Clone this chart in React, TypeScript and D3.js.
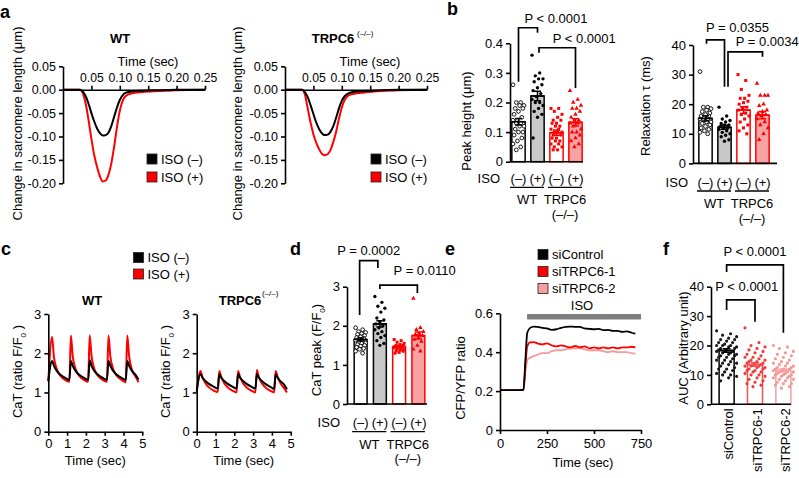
import React, { useRef, useEffect } from "react";
import * as d3 from "d3";

const FONT = "'Liberation Sans', Arial, Helvetica, sans-serif";
const FS = 13;
const RED = "#ff0000";
const PINK = "#f7a3a3";
const GREY = "#c8c8c8";

// ---- a: sarcomere shortening (µm) vs time (sec)
const aTime = [0, 0.03, 0.035, 0.04, 0.045, 0.05, 0.055, 0.06, 0.065, 0.07, 0.075, 0.08, 0.085, 0.09, 0.095, 0.1, 0.105, 0.11, 0.12, 0.14, 0.17, 0.2, 0.25];
const aWtMinus = [0, 0, -0.004, -0.014, -0.03, -0.05, -0.068, -0.083, -0.093, -0.098, -0.097, -0.092, -0.078, -0.058, -0.038, -0.022, -0.012, -0.007, -0.004, -0.002, -0.001, 0, 0];
const aWtPlus = [0, 0, -0.008, -0.03, -0.065, -0.105, -0.14, -0.165, -0.185, -0.196, -0.194, -0.182, -0.158, -0.122, -0.08, -0.045, -0.024, -0.014, -0.008, -0.005, -0.003, -0.001, 0];
const aKoMinus = [0, 0, -0.005, -0.016, -0.033, -0.052, -0.07, -0.084, -0.093, -0.097, -0.096, -0.09, -0.078, -0.06, -0.04, -0.024, -0.014, -0.009, -0.005, -0.003, -0.001, 0, 0];
const aKoPlus = [0, 0, -0.01, -0.04, -0.07, -0.095, -0.113, -0.127, -0.137, -0.14, -0.138, -0.129, -0.112, -0.09, -0.062, -0.038, -0.022, -0.014, -0.009, -0.006, -0.003, -0.001, 0];
const aXTicks = [0.05, 0.1, 0.15, 0.2, 0.25];
const aYTicks = [0.05, 0, -0.05, -0.1, -0.15, -0.2];

// ---- b: peak height and relaxation tau
const bCats = ["WT ISO(–)", "WT ISO(+)", "TRPC6 ISO(–)", "TRPC6 ISO(+)"];
const isoMarks = ["(–)", "(+)", "(–)", "(+)"];
const bPeakMeans = [0.135, 0.222, 0.098, 0.133];
const bPeakSems = [0.011, 0.016, 0.009, 0.012];
const bPeakWtMinus = [0.26, 0.2, 0.2, 0.19, 0.19, 0.18, 0.18, 0.17, 0.16, 0.15, 0.14, 0.14, 0.13, 0.13, 0.12, 0.12, 0.11, 0.1, 0.1, 0.09, 0.08, 0.07, 0.06, 0.05, 0.04];
const bPeakWtPlus = [0.36, 0.3, 0.29, 0.28, 0.28, 0.27, 0.26, 0.25, 0.24, 0.23, 0.22, 0.21, 0.2, 0.2, 0.19, 0.18, 0.17, 0.16, 0.15, 0.08];
const bPeakKoMinus = [0.18, 0.18, 0.17, 0.16, 0.15, 0.14, 0.14, 0.13, 0.13, 0.12, 0.12, 0.11, 0.11, 0.1, 0.1, 0.1, 0.09, 0.09, 0.08, 0.08, 0.07, 0.07, 0.06, 0.06, 0.05, 0.05, 0.04, 0.04];
const bPeakKoPlus = [0.24, 0.21, 0.2, 0.19, 0.18, 0.18, 0.17, 0.16, 0.15, 0.14, 0.14, 0.13, 0.13, 0.12, 0.11, 0.1, 0.1, 0.09, 0.08, 0.07, 0.06, 0.05];
const bTauMeans = [15.2, 12.2, 18.0, 16.3];
const bTauSems = [0.9, 0.7, 1.1, 1.2];
const bTauWtMinus = [31, 19, 19, 18.5, 18, 17.5, 17, 16.5, 16, 16, 15.5, 15, 15, 14.5, 14, 14, 13.5, 13, 12.5, 12, 11.5, 11, 10.5, 10];
const bTauWtPlus = [19, 16, 15, 14.5, 14, 13.5, 13, 13, 12.5, 12, 12, 11.5, 11, 10.5, 10, 9.5, 9, 8, 7.5];
const bTauKoMinus = [30, 28, 25, 23, 22, 22, 21, 20.5, 20, 19, 18.5, 18, 17, 16.5, 16, 15, 14, 13, 12, 11, 10];
const bTauKoPlus = [27, 23, 23, 23, 20, 19.5, 18, 17.5, 17, 16.5, 16, 15, 14, 13, 12, 10, 8];

// ---- c: calcium transients
const cTime = [0, 0.2, 0.3, 0.45, 0.65, 0.9, 1.12, 1.2, 1.3, 1.45, 1.65, 1.9, 2.12, 2.2, 2.3, 2.45, 2.65, 2.9, 3.12, 3.2, 3.3, 3.45, 3.65, 3.9, 4.12, 4.2, 4.3, 4.45, 4.65, 4.8];
const cWtMinus = [1.3, 1.8, 1.68, 1.55, 1.45, 1.37, 1.32, 1.8, 1.68, 1.55, 1.45, 1.37, 1.32, 1.82, 1.68, 1.55, 1.45, 1.37, 1.32, 1.81, 1.68, 1.55, 1.45, 1.37, 1.32, 1.8, 1.68, 1.55, 1.44, 1.33];
const cWtPlus = [1.28, 2.42, 1.9, 1.6, 1.42, 1.32, 1.27, 2.45, 1.92, 1.6, 1.42, 1.32, 1.27, 2.46, 1.93, 1.6, 1.42, 1.32, 1.27, 2.45, 1.92, 1.6, 1.42, 1.32, 1.26, 2.45, 1.92, 1.58, 1.4, 1.26];
const cKoMinus = [1.05, 1.47, 1.38, 1.3, 1.22, 1.15, 1.1, 1.47, 1.38, 1.3, 1.22, 1.15, 1.1, 1.47, 1.38, 1.3, 1.22, 1.15, 1.1, 1.47, 1.38, 1.3, 1.22, 1.15, 1.09, 1.47, 1.38, 1.29, 1.2, 1.08];
const cKoPlus = [1.0, 1.55, 1.4, 1.25, 1.13, 1.05, 1.01, 1.55, 1.4, 1.25, 1.13, 1.05, 1.0, 1.55, 1.4, 1.25, 1.13, 1.05, 1.0, 1.57, 1.4, 1.25, 1.13, 1.05, 1.0, 1.55, 1.4, 1.24, 1.11, 1.0];

// ---- d: CaT peak
const dMeans = [1.65, 2.05, 1.47, 1.75];
const dSems = [0.04, 0.08, 0.02, 0.09];
const dWtMinus = [1.95, 1.9, 1.85, 1.83, 1.8, 1.78, 1.75, 1.72, 1.7, 1.68, 1.65, 1.63, 1.6, 1.58, 1.56, 1.55, 1.52, 1.5, 1.48, 1.45, 1.42, 1.4, 1.35, 1.3];
const dWtPlus = [2.75, 2.6, 2.5, 2.45, 2.35, 2.2, 2.15, 2.1, 2.05, 2.0, 1.95, 1.9, 1.85, 1.8, 1.75, 1.7, 1.62, 1.55, 1.5];
const dKoMinus = [1.65, 1.62, 1.58, 1.55, 1.52, 1.5, 1.5, 1.48, 1.47, 1.46, 1.45, 1.44, 1.42, 1.41, 1.4, 1.38, 1.36, 1.35, 1.32, 1.3];
const dKoPlus = [2.7, 1.95, 1.9, 1.85, 1.8, 1.78, 1.75, 1.7, 1.65, 1.6, 1.5, 1.4, 1.35];

// ---- e: CFP/YFP ratio over time
const eTime = [0, 50, 100, 125, 135, 145, 160, 180, 200, 225, 250, 275, 300, 325, 350, 375, 400, 425, 450, 475, 500, 525, 550, 575, 600, 625, 650, 675, 700, 720];
const eSiControl = [0.205, 0.205, 0.205, 0.207, 0.36, 0.5, 0.525, 0.532, 0.53, 0.525, 0.522, 0.515, 0.518, 0.525, 0.53, 0.532, 0.53, 0.53, 0.522, 0.52, 0.518, 0.52, 0.513, 0.515, 0.51, 0.51, 0.505, 0.507, 0.5, 0.495];
const eSi1 = [0.205, 0.205, 0.205, 0.207, 0.33, 0.43, 0.45, 0.452, 0.445, 0.44, 0.445, 0.435, 0.43, 0.435, 0.43, 0.425, 0.432, 0.425, 0.43, 0.42, 0.425, 0.42, 0.425, 0.42, 0.425, 0.42, 0.425, 0.425, 0.428, 0.425];
const eSi2 = [0.205, 0.205, 0.205, 0.207, 0.3, 0.36, 0.372, 0.38, 0.388, 0.395, 0.395, 0.405, 0.41, 0.41, 0.415, 0.418, 0.42, 0.42, 0.415, 0.41, 0.41, 0.41, 0.405, 0.4, 0.405, 0.4, 0.4, 0.4, 0.395, 0.392];
const eIsoPeriod = [144, 750];

// ---- f: AUC
const fCats = ["siControl", "siTRPC6-1", "siTRPC6-2"];
const fMeans = [18.3, 13.5, 11.5];
const fSems = [0.6, 0.6, 0.5];
const fCtrl = [25, 24, 23.5, 23, 22.5, 22, 22, 21.5, 21, 21, 20.5, 20, 20, 20, 19.5, 19.5, 19, 19, 18.5, 18.5, 18, 18, 18, 17.5, 17.5, 17, 17, 16.5, 16.5, 16, 16, 15.5, 15, 15, 14.5, 14, 14, 13.5, 13, 12.5, 12, 12, 11.5, 11, 10.5, 10, 10, 9.5, 9, 8];
const fSi1 = [26, 21, 20, 19.5, 19, 18.5, 18, 17.5, 17, 16.5, 16, 16, 15.5, 15, 15, 14.5, 14.5, 14, 14, 14, 13.5, 13.5, 13, 13, 13, 12.5, 12.5, 12, 12, 11.5, 11.5, 11, 11, 10.5, 10, 10, 9.5, 9, 8.5, 8, 7.5, 7, 6.5, 6];
const fSi2 = [20, 19.5, 19, 18, 17.5, 17, 16.5, 16, 15.5, 15, 14.5, 14, 14, 13.5, 13, 13, 12.5, 12.5, 12, 12, 12, 11.5, 11.5, 11, 11, 11, 10.5, 10.5, 10, 10, 10, 9.5, 9.5, 9, 9, 8.5, 8.5, 8, 7.5, 7, 7, 6.5, 6, 5.5];

const jitter = (j: number, spread: number) => ((((j * 7) % 11) / 10) - 0.5) * 2 * spread;

function styleAxis(g: any, size = FS) {
  g.attr("font-family", FONT).attr("font-size", size);
  g.select(".domain").attr("stroke", "#000").attr("stroke-width", 1.6);
  g.selectAll(".tick line").attr("stroke", "#000").attr("stroke-width", 1.6);
  g.selectAll(".tick text").attr("fill", "#000");
}

function label(g: any, x: number, y: number, s: string, o: any = {}) {
  return g.append("text").attr("x", x).attr("y", y)
    .attr("font-family", FONT).attr("font-size", o.size ?? FS)
    .attr("font-weight", o.bold ? "bold" : "normal")
    .attr("text-anchor", o.anchor ?? "start").attr("fill", "#000").text(s);
}

function yTitle(g: any, x: number, y: number, main: string, sub?: string, tail?: string) {
  const t = g.append("text").attr("transform", `translate(${x},${y}) rotate(-90)`)
    .attr("text-anchor", "middle").attr("font-family", FONT).attr("font-size", FS);
  t.append("tspan").text(main);
  if (sub) {
    t.append("tspan").attr("font-size", 8).attr("dy", 4).text(sub);
    t.append("tspan").attr("dy", -4).text(tail ?? "");
  }
}

function legend(g: any, x: number, y0: number, step: number, items: { label: string; color: string }[]) {
  items.forEach((it, i) => {
    g.append("rect").attr("x", x).attr("y", y0 + i * step).attr("width", 10).attr("height", 10)
      .attr("fill", it.color).attr("stroke", "#222").attr("stroke-width", 0.8);
    label(g, x + 14, y0 + i * step + 9.5, it.label);
  });
}

function drawTrace(g: any, x: any, y: any, xs: number[], ys: number[], color: string, w = 2) {
  const line = d3.line<number>().x((_, i) => x(xs[i])).y((d) => y(d)).curve(d3.curveMonotoneX);
  g.append("path").attr("d", line(ys)).attr("fill", "none").attr("stroke", color).attr("stroke-width", w);
}

function drawBars(svg: any, cfg: any) {
  const g = svg.append("g");
  const x = d3.scaleBand().domain(cfg.cats).range(cfg.xRange).paddingInner(cfg.pi).paddingOuter(cfg.po);
  const y = d3.scaleLinear().domain(cfg.yDomain).range(cfg.yRange);
  const bw = x.bandwidth();
  const cx = (i: number) => (x(cfg.cats[i]) as number) + bw / 2;
  cfg.cats.forEach((c: string, i: number) => {
    const st = cfg.styles[i];
    const m = cfg.means[i], s = cfg.sems[i];
    g.append("rect").attr("x", x(c)).attr("y", y(m)).attr("width", bw).attr("height", y(0) - y(m))
      .attr("fill", st.fill).attr("stroke", st.stroke).attr("stroke-width", 1.5);
    const sym = d3.symbol().type(st.shape).size(st.size);
    g.selectAll(null).data(cfg.points[i]).join("path")
      .attr("transform", (d: number, j: number) => `translate(${cx(i) + jitter(j, cfg.spread)},${y(d)})`)
      .attr("d", sym)
      .attr("fill", st.open ? "#fff" : st.dot)
      .attr("stroke", st.open ? st.dot : "none").attr("stroke-width", 0.9);
    g.append("line").attr("x1", x(c)).attr("x2", (x(c) as number) + bw).attr("y1", y(m)).attr("y2", y(m))
      .attr("stroke", st.stroke).attr("stroke-width", 1.6);
    g.append("path")
      .attr("d", `M${cx(i)},${y(m + s)}V${y(m - s)}M${cx(i) - cfg.cap},${y(m + s)}H${cx(i) + cfg.cap}M${cx(i) - cfg.cap},${y(m - s)}H${cx(i) + cfg.cap}`)
      .attr("stroke", st.stroke).attr("stroke-width", 1.5).attr("fill", "none");
  });
  const ya = g.append("g").attr("transform", `translate(${cfg.axisX},0)`)
    .call(d3.axisLeft(y).tickValues(cfg.yTicks).tickFormat(cfg.fmt).tickSize(4).tickSizeOuter(0));
  styleAxis(ya);
  g.append("line").attr("x1", cfg.axisX).attr("x2", cfg.axisEnd).attr("y1", y(0)).attr("y2", y(0))
    .attr("stroke", "#000").attr("stroke-width", 1.6);
  yTitle(g, cfg.title.x, cfg.title.y, cfg.title.text, cfg.title.sub, cfg.title.tail);

  if (cfg.iso) {
    const ly = y(0) + cfg.iso.lineDy;
    label(g, cfg.iso.x, ly - 4.5, "ISO", { anchor: "end" });
    isoMarks.forEach((s, i) => label(g, cx(i), ly - 4.5, s, { anchor: "middle" }));
    [["WT", 0, 1], ["TRPC6", 2, 3]].forEach(([name, a, b]: any) => {
      g.append("line").attr("x1", cx(a) - 8.5).attr("x2", cx(b) + 6.5).attr("y1", ly).attr("y2", ly)
        .attr("stroke", "#000").attr("stroke-width", 1.3);
      label(g, (cx(a) + cx(b)) / 2 - 1, ly + 17, name, { anchor: "middle" });
      if (name === "TRPC6") label(g, (cx(a) + cx(b)) / 2 - 1, ly + 31.5, "(–/–)", { anchor: "middle" });
    });
  } else {
    cfg.cats.forEach((c: string, i: number) => {
      g.append("text").attr("transform", `translate(${cx(i) + 6.5},${y(0) + 4}) rotate(-90)`)
        .attr("text-anchor", "end").attr("font-family", FONT).attr("font-size", FS).text(c);
    });
  }

  cfg.brackets.forEach((b: any) => {
    const x1 = cx(b.from) + (b.off1 ?? 0), x2 = cx(b.to) + (b.off2 ?? 0);
    g.append("path").attr("d", `M${x1},${y(b.end1)}V${y(b.top)}H${x2}V${y(b.end2)}`)
      .attr("fill", "none").attr("stroke", "#000").attr("stroke-width", 1.7);
    label(g, (x1 + x2) / 2 + b.dx, y(b.ty), b.text, { anchor: "middle" });
  });
}

const bStyles = [
  { fill: "#fff", stroke: "#000", dot: "#000", shape: d3.symbolCircle, size: 11, open: true },
  { fill: GREY, stroke: "#000", dot: "#000", shape: d3.symbolCircle, size: 9 },
  { fill: "#fff", stroke: RED, dot: RED, shape: d3.symbolSquare, size: 9 },
  { fill: PINK, stroke: RED, dot: RED, shape: d3.symbolTriangle, size: 9 },
];
const fStyles = [
  { fill: "#fff", stroke: "#000", dot: "#1a1a1a", shape: d3.symbolCircle, size: 8 },
  { fill: "#fff", stroke: "#f25252", dot: "#f03a3a", shape: d3.symbolCircle, size: 8 },
  { fill: "#fff", stroke: "#f6a0a0", dot: "#f49898", shape: d3.symbolCircle, size: 8 },
];

export default function App() {
  const ref = useRef<SVGSVGElement>(null);

  useEffect(() => {
    const svg = d3.select(ref.current);
    svg.selectAll("*").remove();
    svg.append("rect").attr("width", 799).attr("height", 478).attr("fill", "#fff");

    // panel letters
    [["a", 0, 18], ["b", 447, 15], ["c", 1, 255], ["d", 290, 255], ["e", 445, 255], ["f", 663, 255]].forEach(([s, x, y]: any) =>
      label(svg, x, y, s, { bold: true, size: 18 }));

    // ---- a
    const aPanels = [
      { x0: 63, minus: aWtMinus, plus: aWtPlus, title: "WT", tx: 120, ytx: 21.5, lx: 147 },
      { x0: 285, minus: aKoMinus, plus: aKoPlus, title: "TRPC6", tx: 333, ytx: 241.5, lx: 371 },
    ];
    aPanels.forEach((p) => {
      const g = svg.append("g");
      const x = d3.scaleLinear().domain([0, 0.25]).range([p.x0, p.x0 + 142]);
      const y = d3.scaleLinear().domain([-0.2, 0.05]).range([183.3, 66.3]);
      drawTrace(g, x, y, aTime, p.plus, RED);
      drawTrace(g, x, y, aTime, p.minus, "#000");
      const ya = g.append("g").attr("transform", `translate(${p.x0},0)`)
        .call(d3.axisLeft(y).tickValues(aYTicks).tickFormat((d: any) => d.toFixed(2)).tickSize(4).tickSizeOuter(0));
      styleAxis(ya, 12.5);
      const xa = g.append("g").attr("transform", `translate(0,${y(0)})`)
        .call(d3.axisTop(x).tickValues(aXTicks).tickFormat((d: any) => d.toFixed(2)).tickSize(4).tickPadding(4).tickSizeOuter(0));
      styleAxis(xa, 12.2);
      label(g, p.x0 + 85, 66, "Time (sec)", { anchor: "middle" });
      label(g, p.tx, 43, p.title, { anchor: "middle", bold: true });
      if (p.title === "TRPC6") label(g, p.tx + 24, 36, "(–/–)", { size: 8 });
      yTitle(g, p.ytx, 123.5, "Change in sarcomere length (μm)");
      legend(g, p.lx, 154, 18, [{ label: "ISO (–)", color: "#000" }, { label: "ISO (+)", color: RED }]);
    });

    // ---- b
    drawBars(svg, {
      cats: bCats, means: bPeakMeans, sems: bPeakSems,
      points: [bPeakWtMinus, bPeakWtPlus, bPeakKoMinus, bPeakKoPlus],
      yDomain: [0, 0.4], yRange: [161.7, 43.3], yTicks: [0, 0.1, 0.2, 0.3, 0.4],
      fmt: (d: any) => (d === 0 ? "0" : d.toFixed(1)),
      xRange: [509, 585], pi: 0.3, po: 0.15, axisX: 510, axisEnd: 583,
      styles: bStyles, spread: 5.5, cap: 3.5,
      title: { x: 471, y: 121, text: "Peak height (μm)" },
      iso: { x: 500, lineDy: 25.6 },
      brackets: [
        { from: 0, to: 1, top: 0.4525, end1: 0.27, end2: 0.436, ty: 0.468, dx: 28, text: "P < 0.0001" },
        { from: 1, to: 3, off1: 1.5, top: 0.385, end1: 0.368, end2: 0.249, ty: 0.4, dx: 27, text: "P < 0.0001" },
      ],
    });
    drawBars(svg, {
      cats: bCats, means: bTauMeans, sems: bTauSems,
      points: [bTauWtMinus, bTauWtPlus, bTauKoMinus, bTauKoPlus],
      yDomain: [0, 40], yRange: [163.4, 45], yTicks: [0, 10, 20, 30, 40],
      fmt: (d: any) => String(d),
      xRange: [696, 772], pi: 0.3, po: 0.15, axisX: 693, axisEnd: 777,
      styles: bStyles, spread: 5.5, cap: 3.5,
      title: { x: 649.5, y: 106, text: "Relaxation τ (ms)" },
      iso: { x: 688, lineDy: 27.6 },
      brackets: [
        { from: 0, to: 1, off1: 1, top: 41.7, end1: 40.4, end2: 25.9, ty: 44.3, dx: 22, text: "P = 0.0355" },
        { from: 1, to: 3, off1: 3.5, top: 37.7, end1: 25.9, end2: 36.0, ty: 39.6, dx: 22, text: "P = 0.0034" },
      ],
    });

    // ---- c
    legend(svg, 133.5, 252.5, 16.5, [{ label: "ISO (–)", color: "#000" }, { label: "ISO (+)", color: RED }]);
    const cPanels = [
      { x0: 48.3, minus: cWtMinus, plus: cWtPlus, title: "WT", tx: 92, ytx: 21.5 },
      { x0: 196.7, minus: cKoMinus, plus: cKoPlus, title: "TRPC6", tx: 240, ytx: 169.5 },
    ];
    cPanels.forEach((p) => {
      const g = svg.append("g");
      const x = d3.scaleLinear().domain([0, 5]).range([p.x0, p.x0 + 94]);
      const y = d3.scaleLinear().domain([0, 3]).range([431.7, 314]);
      drawTrace(g, x, y, cTime, p.plus, RED);
      drawTrace(g, x, y, cTime, p.minus, "#000");
      const ya = g.append("g").attr("transform", `translate(${p.x0},0)`)
        .call(d3.axisLeft(y).tickValues([0, 1, 2, 3]).tickFormat(d3.format("d")).tickSize(4).tickSizeOuter(0));
      styleAxis(ya);
      const xa = g.append("g").attr("transform", `translate(0,${y(0)})`)
        .call(d3.axisBottom(x).tickValues([0, 1, 2, 3, 4, 5]).tickFormat(d3.format("d")).tickSize(4).tickSizeOuter(0));
      styleAxis(xa);
      label(g, p.x0 + 47, 465, "Time (sec)", { anchor: "middle" });
      label(g, p.tx, 305, p.title, { anchor: "middle", bold: true });
      if (p.title === "TRPC6") label(g, p.tx + 22, 296, "(–/–)", { size: 8 });
      yTitle(g, p.ytx, 371.5, "CaT (ratio F/F", "0", " )");
    });

    // ---- d
    drawBars(svg, {
      cats: bCats, means: dMeans, sems: dSems,
      points: [dWtMinus, dWtPlus, dKoMinus, dKoPlus],
      yDomain: [0, 3], yRange: [404, 286.7], yTicks: [0, 1, 2, 3],
      fmt: (d: any) => String(d),
      xRange: [351, 428], pi: 0.33, po: 0.165, axisX: 347, axisEnd: 427,
      styles: bStyles, spread: 5, cap: 3.5,
      title: { x: 321, y: 350, text: "CaT peak (F/F", sub: "0", tail: ")" },
      iso: { x: 340, lineDy: 27.7 },
      brackets: [
        { from: 0, to: 1, off1: -1, off2: -2, top: 3.665, end1: 2.276, end2: 3.478, ty: 3.82, dx: 0, text: "P = 0.0002" },
        { from: 1, to: 3, off2: -1, top: 3.04, end1: 2.94, end2: 2.84, ty: 3.31, dx: 26, text: "P = 0.0110" },
      ],
    });

    // ---- e
    {
      const g = svg.append("g");
      const x = d3.scaleLinear().domain([0, 750]).range([500, 641]);
      const y = d3.scaleLinear().domain([0, 0.6]).range([430, 313.3]);
      drawTrace(g, x, y, eTime, eSi2, "#f59b9b", 1.8);
      drawTrace(g, x, y, eTime, eSi1, RED, 1.8);
      drawTrace(g, x, y, eTime, eSiControl, "#000", 1.8);
      g.append("rect").attr("x", x(eIsoPeriod[0])).attr("y", 314).attr("width", x(eIsoPeriod[1]) - x(eIsoPeriod[0]))
        .attr("height", 5.5).attr("fill", "#7f7f7f");
      label(g, x((eIsoPeriod[0] + eIsoPeriod[1]) / 2) - 2, 310, "ISO", { anchor: "middle" });
      const ya = g.append("g").attr("transform", "translate(500,0)")
        .call(d3.axisLeft(y).tickValues([0, 0.2, 0.4, 0.6]).tickFormat((d: any) => (d === 0 ? "0" : d.toFixed(1))).tickSize(4).tickSizeOuter(0));
      styleAxis(ya);
      const xa = g.append("g").attr("transform", `translate(0,${y(0)})`)
        .call(d3.axisBottom(x).tickValues([0, 250, 500, 750]).tickSize(4).tickPadding(5).tickSizeOuter(0));
      styleAxis(xa);
      label(g, 583, 467, "Time (sec)", { anchor: "middle" });
      yTitle(g, 464.5, 378, "CFP/YFP ratio");
      legend(g, 538, 249.5, 17, [
        { label: "siControl", color: "#000" },
        { label: "siTRPC6-1", color: RED },
        { label: "siTRPC6-2", color: "#f5a0a0" },
      ]);
    }

    // ---- f
    drawBars(svg, {
      cats: fCats, means: fMeans, sems: fSems, points: [fCtrl, fSi1, fSi2],
      yDomain: [0, 40], yRange: [404.3, 286.7], yTicks: [0, 10, 20, 30, 40],
      fmt: (d: any) => String(d),
      xRange: [712, 798], pi: 0.47, po: 0.25, axisX: 711, axisEnd: 791,
      styles: fStyles, spread: 10, cap: 4,
      title: { x: 687.5, y: 348, text: "AUC (Arbitrary unit)" },
      brackets: [
        { from: 0, to: 2, top: 47.4, end1: 45.0, end2: 24.3, ty: 50.3, dx: 0, text: "P < 0.0001" },
        { from: 0, to: 1, top: 35.5, end1: 32.1, end2: 28.1, ty: 38.4, dx: 6, text: "P < 0.0001" },
      ],
    });
  }, []);

  return (
    <svg ref={ref} width={799} height={478} style={{ position: "absolute", left: 0, top: 0, display: "block" }} />
  );
}
